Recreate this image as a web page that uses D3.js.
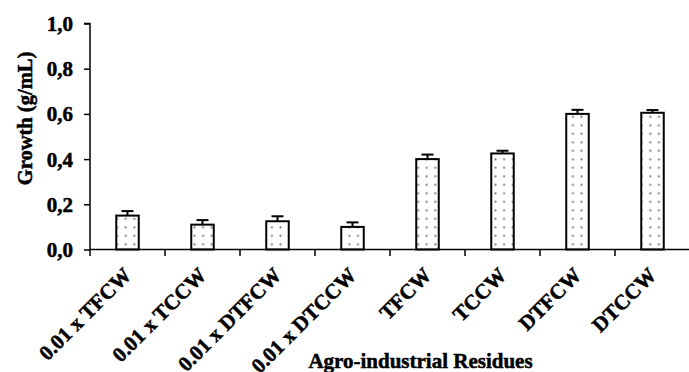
<!DOCTYPE html>
<html>
<head>
<meta charset="utf-8">
<script src="https://cdn.jsdelivr.net/npm/d3@7/dist/d3.min.js"></script>
<style>
  html, body { margin: 0; padding: 0; background: #fff; }
  svg { display: block; }
  text { font-family: "Liberation Serif", "Times New Roman", serif; font-weight: bold; fill: #000; stroke: #000; stroke-width: 0.5px; }
</style>
</head>
<body>
<svg id="chart" width="689" height="372"></svg>
<script>
// Growth per agro-industrial residue (mean with upper error bar)
const categories = ["0.01 x TFCW", "0.01 x TCCW", "0.01 x DTFCW", "0.01 x DTCCW", "TFCW", "TCCW", "DTFCW", "DTCCW"];
const growth = [0.15, 0.11, 0.125, 0.10, 0.40, 0.425, 0.60, 0.605];
const errors = [0.02, 0.02, 0.022, 0.02, 0.02, 0.012, 0.018, 0.012];
const yTicks = [0, 0.2, 0.4, 0.6, 0.8, 1.0];
const yTickLabels = ["0,0", "0,2", "0,4", "0,6", "0,8", "1,0"];

const svg = d3.select("#chart");
const plotLeft = 90, plotRight = 690, plotTop = 23.5, plotBottom = 249.5;

const x = d3.scaleBand().domain(categories).range([plotLeft, plotRight]).paddingInner(0).paddingOuter(0);
const y = d3.scaleLinear().domain([0, 1]).range([plotBottom, plotTop]);

// dotted fill for the bars
const defs = svg.append("defs");
const pat = defs.append("pattern")
  .attr("id", "dots").attr("patternUnits", "userSpaceOnUse")
  .attr("width", 8.6).attr("height", 8.5).attr("x", 1).attr("y", 2);
pat.append("rect").attr("width", 8.6).attr("height", 8.5).attr("fill", "#fff");
pat.append("rect").attr("x", 3.4).attr("y", 3.4).attr("width", 1.8).attr("height", 1.8).attr("fill", "#666");

const barW = x.bandwidth() * 0.3;
const data = categories.map((c, i) => ({ c, v: growth[i], e: errors[i] }));

// error bars (upper only)
const eb = svg.append("g").attr("stroke", "#000").attr("stroke-width", 2);
eb.selectAll("line.stem").data(data).join("line").attr("class", "stem")
  .attr("x1", d => x(d.c) + x.bandwidth() / 2).attr("x2", d => x(d.c) + x.bandwidth() / 2)
  .attr("y1", d => y(d.v)).attr("y2", d => y(d.v + d.e));
eb.selectAll("line.cap").data(data).join("line").attr("class", "cap")
  .attr("x1", d => x(d.c) + x.bandwidth() / 2 - 6).attr("x2", d => x(d.c) + x.bandwidth() / 2 + 6)
  .attr("y1", d => y(d.v + d.e)).attr("y2", d => y(d.v + d.e));

// bars
svg.append("g").selectAll("rect").data(data).join("rect")
  .attr("x", d => x(d.c) + (x.bandwidth() - barW) / 2)
  .attr("y", d => y(d.v))
  .attr("width", barW)
  .attr("height", d => y(0) - y(d.v))
  .attr("fill", "url(#dots)")
  .attr("stroke", "#000").attr("stroke-width", 2);

// y axis
const yAxis = d3.axisLeft(y).tickValues(yTicks).tickFormat((d, i) => yTickLabels[i]).tickSize(6).tickPadding(11);
const gy = svg.append("g").attr("transform", `translate(${plotLeft},0)`).call(yAxis);
gy.select(".domain").attr("stroke-width", 1.5).attr("d", `M-6,${plotTop}H0V${plotBottom + 6.5}`);
gy.selectAll(".tick line").attr("stroke-width", 1.5);
gy.selectAll(".tick text")
  .style("font-size", "21px").style("font-family", "Liberation Serif").style("font-weight", "bold")
  .attr("fill", "#000").attr("stroke", "#000").attr("stroke-width", 0.6)
  .attr("dy", "0.33em");

// x axis with ticks on category boundaries
const gx = svg.append("g").attr("transform", `translate(0,${plotBottom})`);
gx.append("line").attr("x1", plotLeft).attr("x2", 689).attr("y1", 0).attr("y2", 0).attr("stroke", "#000").attr("stroke-width", 1.5);
gx.selectAll("line.b").data(categories.slice(1)).join("line").attr("class", "b")
  .attr("x1", d => x(d)).attr("x2", d => x(d)).attr("y1", 0).attr("y2", 6.5)
  .attr("stroke", "#000").attr("stroke-width", 1.5);
gx.selectAll("text").data(categories).join("text")
  .attr("transform", d => `translate(${x(d) + x.bandwidth() / 2 + 5},${27}) rotate(-45)`)
  .attr("text-anchor", "end")
  .style("font-size", "21px")
  .text(d => d);

// axis titles
svg.append("text").attr("transform", `translate(32,118.5) rotate(-90)`)
  .attr("text-anchor", "middle").style("font-size", "20.5px").text("Growth (g/mL)");
svg.append("text").attr("x", 420.5).attr("y", 368)
  .attr("text-anchor", "middle").style("font-size", "21px").text("Agro-industrial Residues");
</script>
</body>
</html>
